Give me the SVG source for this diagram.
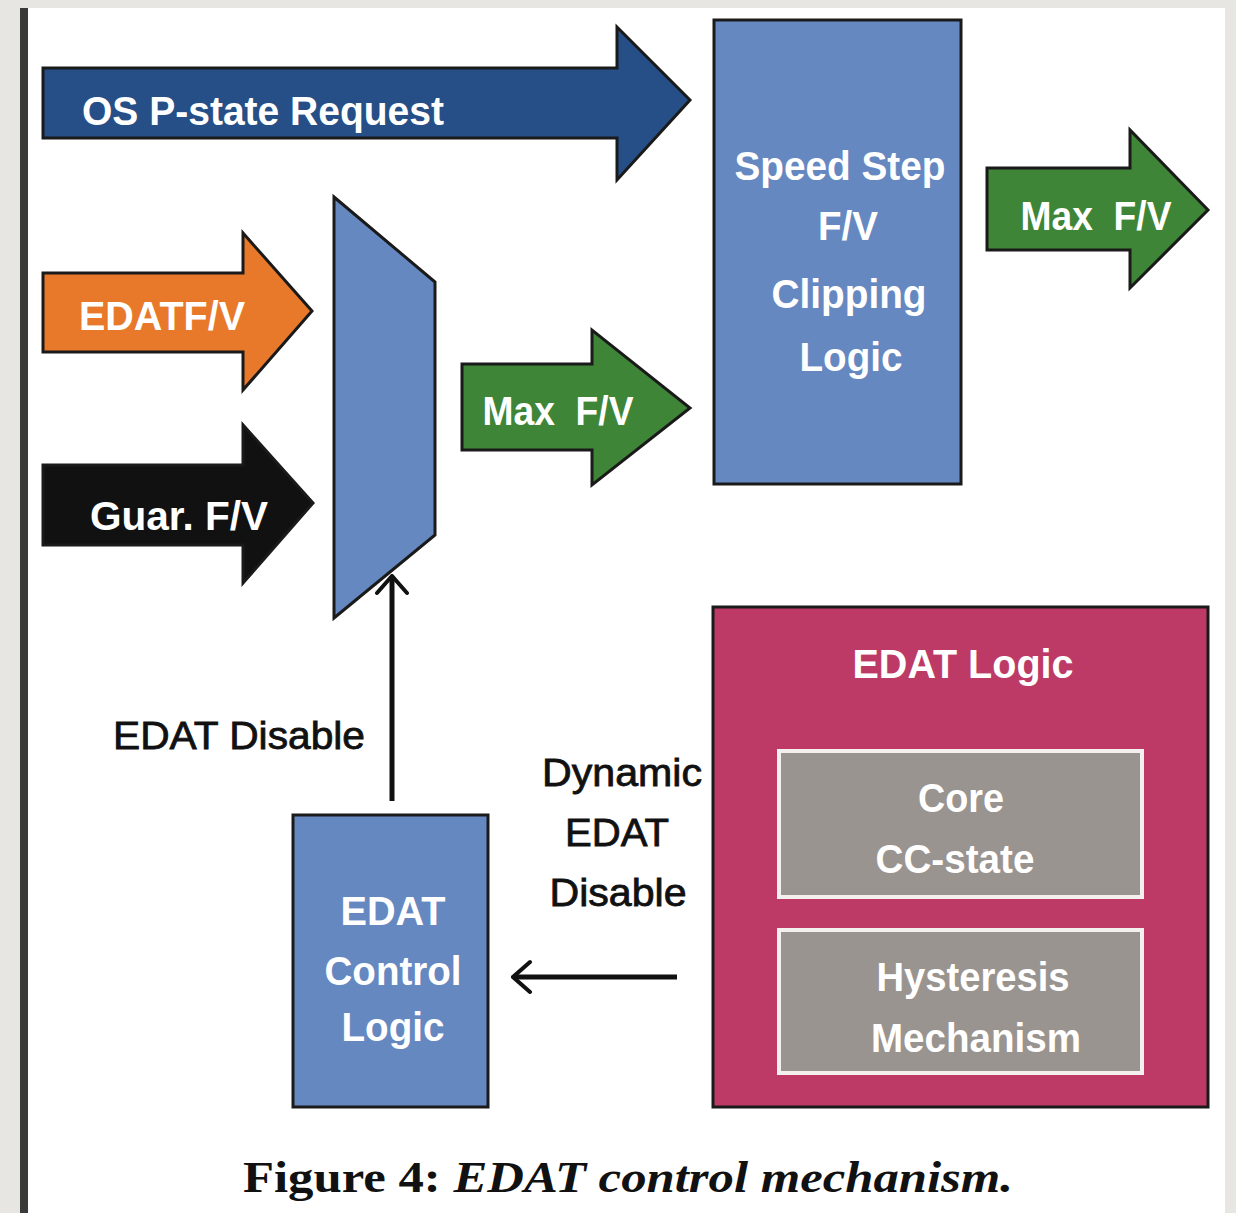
<svg xmlns="http://www.w3.org/2000/svg" width="1236" height="1213" viewBox="0 0 1236 1213">
  <style>
    .wt { font-family: "Liberation Sans", Arial, sans-serif; font-weight: bold; fill: #ffffff; font-size: 40px; text-anchor: middle; }
    .bt { font-family: "Liberation Sans", Arial, sans-serif; font-weight: normal; fill: #111111; stroke: #111111; stroke-width: 0.8; font-size: 38px; text-anchor: middle; }
    .shape { stroke: #1a1a1a; stroke-width: 3; stroke-linejoin: miter; }
    .blue { fill: #6688c1; }
    .green { fill: #3f8537; }
    .conn { stroke: #111111; stroke-width: 5; fill: none; }
    .head { stroke: #111111; stroke-width: 4; fill: none; stroke-linecap: round; stroke-linejoin: miter; }
    .inner { fill: #9a9490; stroke: #f4f0f0; stroke-width: 4; }
    .cap { font-family: "Liberation Serif", "Times New Roman", serif; font-weight: bold; fill: #111111; font-size: 44px; }
  </style>
  <defs>
    <marker id="open" viewBox="0 0 22 36" refX="20" refY="18" markerWidth="22" markerHeight="36" markerUnits="userSpaceOnUse" orient="auto">
      <path d="M3,3 L20,18 L3,33" class="head"/>
    </marker>
  </defs>

  <!-- frame -->
  <rect x="0" y="0" width="1236" height="1213" fill="#e8e6e2"/>
  <rect x="20" y="8" width="1205" height="1205" fill="#ffffff"/>
  <rect x="20" y="8" width="8" height="1205" fill="#3a3a3a"/>

  <g id="os-pstate-request">
    <polygon class="shape" fill="#254f86" points="43,68 617,68 617,27 690,100 617,180 617,138 43,138"/>
    <text class="wt" x="263" y="125" textLength="362" lengthAdjust="spacingAndGlyphs">OS P-state Request</text>
  </g>

  <g id="speed-step">
    <rect class="shape blue" x="714" y="20" width="247" height="464"/>
    <text class="wt" x="840" y="180" textLength="211" lengthAdjust="spacingAndGlyphs">Speed Step</text>
    <text class="wt" x="848" y="240" textLength="60" lengthAdjust="spacingAndGlyphs">F/V</text>
    <text class="wt" x="849" y="308" textLength="155" lengthAdjust="spacingAndGlyphs">Clipping</text>
    <text class="wt" x="851" y="371" textLength="103" lengthAdjust="spacingAndGlyphs">Logic</text>
  </g>

  <g id="max-fv-out">
    <polygon class="shape green" points="987,168 1130,168 1130,130 1208,210 1130,288 1130,250 987,250"/>
    <text class="wt" x="1096" y="230" textLength="151" lengthAdjust="spacingAndGlyphs">Max&#160; F/V</text>
  </g>

  <g id="edat-fv">
    <polygon class="shape" fill="#e8792a" points="43,273 243,273 243,233 312,311 243,390 243,352 43,352"/>
    <text class="wt" x="162" y="330" textLength="166" lengthAdjust="spacingAndGlyphs">EDATF/V</text>
  </g>

  <g id="guar-fv">
    <polygon class="shape" fill="#111111" points="43,465 243,465 243,425 313,503 243,583 243,545 43,545"/>
    <text class="wt" x="179" y="530" textLength="178" lengthAdjust="spacingAndGlyphs">Guar. F/V</text>
  </g>

  <g id="mux">
    <polygon class="shape blue" points="334,197 435,282 435,535 334,618"/>
  </g>

  <g id="max-fv-mid">
    <polygon class="shape green" points="462,364 592,364 592,330 690,408 592,485 592,450 462,450"/>
    <text class="wt" x="558" y="425" textLength="151" lengthAdjust="spacingAndGlyphs">Max&#160; F/V</text>
  </g>

  <g id="edat-control-logic">
    <rect class="shape blue" x="293" y="815" width="195" height="292"/>
    <text class="wt" x="393" y="925" textLength="105" lengthAdjust="spacingAndGlyphs">EDAT</text>
    <text class="wt" x="393" y="985" textLength="137" lengthAdjust="spacingAndGlyphs">Control</text>
    <text class="wt" x="393" y="1041" textLength="103" lengthAdjust="spacingAndGlyphs">Logic</text>
  </g>

  <g id="edat-logic">
    <rect class="shape" fill="#bc3a65" x="713" y="607" width="495" height="500"/>
    <text class="wt" x="963" y="678" textLength="221" lengthAdjust="spacingAndGlyphs">EDAT Logic</text>
    <g id="core-cc-state">
      <rect class="inner" x="779" y="751" width="363" height="146"/>
      <text class="wt" x="961" y="812" textLength="86" lengthAdjust="spacingAndGlyphs">Core</text>
      <text class="wt" x="955" y="873" textLength="159" lengthAdjust="spacingAndGlyphs">CC-state</text>
    </g>
    <g id="hysteresis-mechanism">
      <rect class="inner" x="779" y="930" width="363" height="143"/>
      <text class="wt" x="973" y="991" textLength="193" lengthAdjust="spacingAndGlyphs">Hysteresis</text>
      <text class="wt" x="976" y="1052" textLength="210" lengthAdjust="spacingAndGlyphs">Mechanism</text>
    </g>
  </g>

  <g id="connectors">
    <line class="conn" x1="392" y1="801" x2="392" y2="576" marker-end="url(#open)"/>
    <line class="conn" x1="677" y1="977" x2="513" y2="977" marker-end="url(#open)"/>
  </g>

  <g id="labels">
    <text class="bt" x="239" y="749" textLength="252" lengthAdjust="spacingAndGlyphs">EDAT Disable</text>
    <text class="bt" x="622" y="786" textLength="160" lengthAdjust="spacingAndGlyphs">Dynamic</text>
    <text class="bt" x="617" y="846" textLength="104" lengthAdjust="spacingAndGlyphs">EDAT</text>
    <text class="bt" x="618" y="906" textLength="137" lengthAdjust="spacingAndGlyphs">Disable</text>
  </g>

  <text class="cap" x="243" y="1192" textLength="770" lengthAdjust="spacingAndGlyphs">Figure 4: <tspan font-style="italic">EDAT control mechanism.</tspan></text>
</svg>
